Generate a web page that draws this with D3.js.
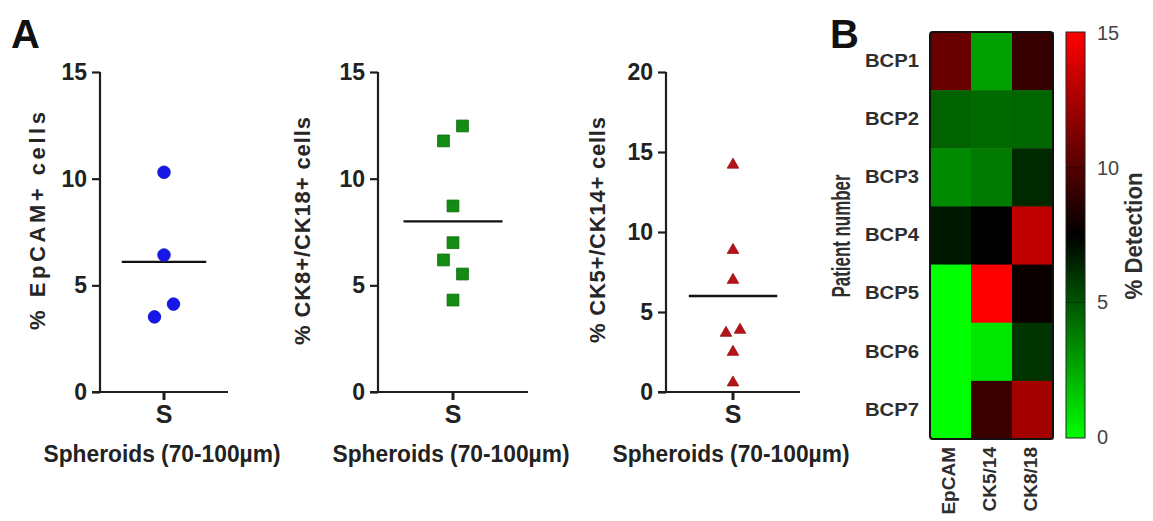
<!DOCTYPE html>
<html><head><meta charset="utf-8">
<script src="https://cdn.jsdelivr.net/npm/d3@7"></script>
<style>
body{margin:0;background:#fff}
svg{display:block}
text{font-family:"Liberation Sans",Arial,Helvetica,sans-serif}
</style>
</head><body>
<svg id="c" width="1153" height="521"></svg>
<script>
// ---------- data ----------
const groupCategories = ["S"];
const epcamValues = [10.3, 6.42, 4.12, 3.52];
const epcamSlots  = [0, 0, 1, -1];
const ck818Values = [12.47, 11.77, 8.72, 7.0, 6.19, 5.53, 4.31];
const ck818Slots  = [1, -1, 0, 0, -1, 1, 0];
const ck514Values = [14.2, 8.87, 7.0, 3.88, 3.69, 2.5, 0.59];
const ck514Slots  = [0, 0, 0, 1, -1, 0, 0];
const meanValues  = [6.1, 8.0, 6.0];
const yTicksA = [0, 5, 10, 15];
const yTicksC = [0, 5, 10, 15, 20];
const yMaxes = [15, 15, 20];
const yLabels = ["% EpCAM+ cells", "% CK8+/CK18+ cells", "% CK5+/CK14+ cells"];
const xTitle = "Spheroids (70-100\u00b5m)";

const patients = ["BCP1","BCP2","BCP3","BCP4","BCP5","BCP6","BCP7"];
const markers = ["EpCAM","CK5/14","CK8/18"];
const detection = [
  [10.6, 2.8, 9.1],
  [4.6, 4.4, 4.5],
  [3.4, 3.9, 6.3],
  [6.8, 7.5, 13.1],
  [0.0, 15.0, 7.8],
  [0.0, 0.7, 6.0],
  [0.0, 9.2, 12.3]
];
const colorTicks = [0, 5, 10, 15];

// ---------- drawing ----------
const svg = d3.select("#c");
const ink = "#1e1e1e";
const FF = "Liberation Sans, Arial, sans-serif";

const panels = [
  {values: epcamValues, slots: epcamSlots, mean: meanValues[0], ticks: yTicksA, max: yMaxes[0], label: yLabels[0],
   x0: 100, x1: 228, slotPx: 9.5, labX: 45, labY: 221, labLen: 218,
   symbol: d3.symbolCircle, size: 125, fill: "#1717e8", stroke: "#1010c8"},
  {values: ck818Values, slots: ck818Slots, mean: meanValues[1], ticks: yTicksA, max: yMaxes[1], label: yLabels[1],
   x0: 378, x1: 528, slotPx: 9.5, labX: 310, labY: 231, labLen: 228,
   symbol: d3.symbolSquare, size: 140, fill: "#148c14", stroke: "#0d6e0d"},
  {values: ck514Values, slots: ck514Slots, mean: meanValues[2], ticks: yTicksC, max: yMaxes[2], label: yLabels[2],
   x0: 666, x1: 800, slotPx: 7, labX: 605, labY: 230, labLen: 226,
   symbol: d3.symbolTriangle, size: 58, fill: "#b3141a", stroke: "#9a1015"}
];

panels.forEach(p => {
  const g = svg.append("g");
  const y = d3.scaleLinear().domain([0, p.max]).range([392, 72]);
  const x = d3.scaleBand().domain(groupCategories).range([p.x0, p.x1]);
  const cx = x("S") + x.bandwidth() / 2;

  // y axis
  const ya = g.append("g").attr("transform", `translate(${p.x0},0)`)
    .call(d3.axisLeft(y).tickValues(p.ticks).tickSize(8).tickPadding(5).tickFormat(d3.format("d")));
  ya.select(".domain").attr("stroke", ink).attr("stroke-width", 2.2).attr("d", `M0,${y(p.max)}V${y(0)}`);
  ya.selectAll(".tick line").attr("stroke", ink).attr("stroke-width", 2.2);
  ya.selectAll(".tick text").attr("fill", "#222").attr("font-size", 23).attr("font-weight", "bold")
    .attr("font-family", FF);

  // x axis
  const xa = g.append("g").attr("transform", `translate(0,392)`)
    .call(d3.axisBottom(x).tickSize(8).tickPadding(5));
  xa.select(".domain").attr("stroke", ink).attr("stroke-width", 2.2).attr("d", `M${p.x0 - 8},0H${p.x1}`);
  xa.selectAll(".tick line").attr("stroke", ink).attr("stroke-width", 3);
  xa.selectAll(".tick text").attr("fill", "#222").attr("font-size", 25).attr("font-weight", "bold")
    .attr("font-family", FF).attr("dy", "0.72em");

  // x title
  g.append("text").attr("x", cx - 2).attr("y", 462).attr("text-anchor", "middle")
    .attr("font-size", 23.5).attr("font-weight", "bold").attr("fill", "#222")
    .attr("textLength", 237).attr("lengthAdjust", "spacingAndGlyphs").text(xTitle);

  // y title
  g.append("text").attr("transform", `translate(${p.labX},${p.labY}) rotate(-90)`)
    .attr("text-anchor", "middle").attr("font-size", 22).attr("font-weight", "bold").attr("fill", "#262626")
    .attr("textLength", p.labLen).attr("lengthAdjust", "spacing").text(p.label);

  // mean line
  const half = x.bandwidth() * 0.33;
  g.append("line").attr("x1", cx - half).attr("x2", cx + half)
    .attr("y1", y(p.mean)).attr("y2", y(p.mean)).attr("stroke", "#111").attr("stroke-width", 2.4);

  // points
  const sym = d3.symbol().type(p.symbol).size(p.size);
  g.selectAll("path.pt").data(p.values.map((v, i) => ({v, s: p.slots[i]}))).join("path")
    .attr("class", "pt")
    .attr("transform", d => `translate(${cx + d.s * p.slotPx},${y(d.v)})`)
    .attr("d", sym).attr("fill", p.fill).attr("stroke", p.stroke).attr("stroke-width", 0.8);
});

// panel letters
svg.append("text").attr("x", 11).attr("y", 48).attr("font-size", 40).attr("font-weight", "bold").attr("fill", "#111").text("A");
svg.append("text").attr("x", 830).attr("y", 48).attr("font-size", 40).attr("font-weight", "bold").attr("fill", "#111").text("B");

// ---------- heatmap ----------
const hx = d3.scaleBand().domain(markers).range([930, 1053]);
const hy = d3.scaleBand().domain(patients).range([32, 439]);
const color = d3.scaleLinear().domain([0, 7.5, 15]).range(["#00ff00", "#000000", "#ff0000"]);

const cells = [];
patients.forEach((pt, i) => markers.forEach((m, j) => cells.push({pt, m, v: detection[i][j]})));
const hg = svg.append("g");
hg.selectAll("rect.cell").data(cells).join("rect").attr("class", "cell")
  .attr("x", d => hx(d.m)).attr("y", d => hy(d.pt))
  .attr("width", hx.bandwidth() + 0.5).attr("height", hy.bandwidth() + 0.5)
  .attr("fill", d => color(d.v));
hg.append("rect").attr("x", 930).attr("y", 32).attr("width", 123).attr("height", 407)
  .attr("rx", 3).attr("fill", "none").attr("stroke", "#111").attr("stroke-width", 2);

// row labels
const ya2 = hg.append("g").attr("transform", "translate(930,0)")
  .call(d3.axisLeft(hy).tickSize(0).tickPadding(11));
ya2.select(".domain").remove();
ya2.selectAll(".tick text").attr("font-size", 18).attr("font-weight", "bold").attr("fill", "#2e2e2e")
  .attr("font-family", FF)
  .attr("textLength", 54).attr("lengthAdjust", "spacingAndGlyphs");

// column labels
const xa2 = hg.append("g").attr("transform", "translate(0,439)")
  .call(d3.axisBottom(hx).tickSize(0).tickPadding(0));
xa2.select(".domain").remove();
xa2.selectAll(".tick text").attr("font-size", 19).attr("font-weight", "bold").attr("fill", "#2e2e2e")
  .attr("font-family", FF)
  .attr("text-anchor", "end").attr("dy", null).attr("y", 0)
  .attr("transform", "translate(4,8) rotate(-90)");

// y title
hg.append("text").attr("transform", "translate(850,236) rotate(-90)").attr("text-anchor", "middle")
  .attr("font-size", 26).attr("font-weight", "bold").attr("fill", "#2e2e2e")
  .attr("textLength", 123).attr("lengthAdjust", "spacingAndGlyphs").text("Patient number");

// colorbar
const cb = d3.scaleLinear().domain([0, 15]).range([437, 33]);
const defs = svg.append("defs");
const grad = defs.append("linearGradient").attr("id", "cbg").attr("x1", 0).attr("x2", 0).attr("y1", 1).attr("y2", 0);
d3.range(0, 15.01, 1.5).forEach(v => grad.append("stop").attr("offset", v / 15).attr("stop-color", color(v)));
hg.append("rect").attr("x", 1066).attr("y", 32).attr("width", 19).attr("height", 406)
  .attr("fill", "url(#cbg)").attr("stroke", "#222").attr("stroke-width", 1);
[5, 10].forEach(v => hg.append("line").attr("x1", 1066).attr("x2", 1085).attr("y1", cb(v)).attr("y2", cb(v))
  .attr("stroke", "#000").attr("stroke-opacity", 0.35).attr("stroke-width", 1));
const cba = hg.append("g").attr("transform", "translate(1085,0)")
  .call(d3.axisRight(cb).tickValues(colorTicks).tickSize(0).tickPadding(12).tickFormat(d3.format("d")));
cba.select(".domain").remove();
cba.selectAll(".tick text").attr("font-size", 20).attr("fill", "#444")
  .attr("font-family", FF);

hg.append("text").attr("transform", "translate(1142,236) rotate(-90)").attr("text-anchor", "middle")
  .attr("font-size", 24).attr("font-weight", "bold").attr("fill", "#2e2e2e")
  .attr("textLength", 127).attr("lengthAdjust", "spacingAndGlyphs").text("% Detection");
</script>
</body></html>
